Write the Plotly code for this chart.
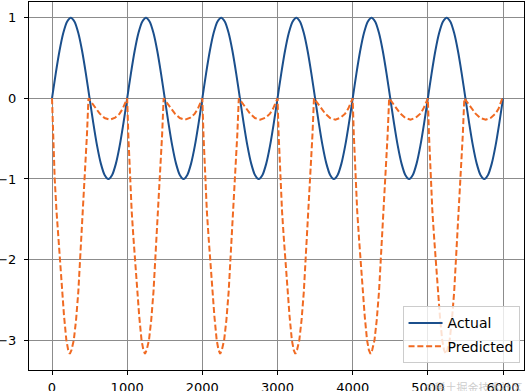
import plotly.graph_objects as go

# Cycle starts (one repeating pattern per 1000 steps)
cycle_starts = [0, 1000, 2000, 3000, 4000, 5000]
end_x = 6000

# Actual: one cycle
actual_cycle_x = [0, 50, 100, 150, 200, 250, 300, 350, 400, 450,
                  500, 550, 600, 650, 700, 750, 800, 850, 900, 950]
actual_cycle_y = [0.0, 0.31, 0.59, 0.81, 0.95, 1.0, 0.95, 0.81, 0.59, 0.31,
                  0.0, -0.31, -0.59, -0.81, -0.95, -1.0, -0.95, -0.81, -0.59, -0.31]

# Predicted: one cycle
pred_cycle_x = [0, 15, 36, 60, 85, 104, 130, 160, 191, 215, 237, 260, 290,
                320, 350, 375, 400, 425, 445, 465, 485,
                530, 570, 635, 700, 770, 840, 900, 940, 970, 990]
pred_cycle_y = [0.0, -0.45, -1.0, -1.4, -1.75, -2.0, -2.35, -2.7, -3.0, -3.12, -3.17, -3.12, -3.0,
                -2.75, -2.4, -2.0, -1.6, -1.2, -0.9, -0.45, 0.0,
                -0.06, -0.11, -0.19, -0.245, -0.265, -0.24, -0.19, -0.13, -0.065, 0.0]

x_ticks = [0, 1000, 2000, 3000, 4000, 5000, 6000]
y_ticks = [-3, -2, -1, 0, 1]

ax, ay, px, py = [], [], [], []
for s in cycle_starts:
    ax += [s + v for v in actual_cycle_x]
    ay += actual_cycle_y
    px += [s + v for v in pred_cycle_x]
    py += pred_cycle_y
ax.append(end_x)
ay.append(0.0)

fig = go.Figure()
fig.add_trace(go.Scatter(x=ax, y=ay, mode="lines", name="Actual", legendgroup="a",
                         line=dict(color="#1b4f8c", width=2, shape="spline", smoothing=0.6)))
fig.add_trace(go.Scatter(x=px, y=py, mode="lines", name="Predicted", legendgroup="p",
                         line=dict(color="#f06a22", width=2, dash="6px,2.8px")))

axis_common = dict(showline=True, linecolor="black", linewidth=1, mirror=True,
                   ticks="outside", ticklen=4, tickcolor="black", automargin=False,
                   showgrid=True, gridcolor="#8c8c8c", gridwidth=1, zeroline=False,
                   tickfont=dict(family="DejaVu Sans", size=13, color="black"))

fig.update_xaxes(range=[-306, 6279], tickvals=x_ticks, ticklabelstandoff=1, **axis_common)
fig.update_yaxes(range=[-3.37, 1.195], tickvals=y_ticks, ticklabelstandoff=5, **axis_common)

fig.update_layout(
    width=527, height=391,
    margin=dict(l=29, r=3, t=2, b=21),
    plot_bgcolor="white", paper_bgcolor="white",
    font=dict(family="DejaVu Sans", size=13, color="black"),
    legend=dict(x=0.991, y=0.018, xanchor="right", yanchor="bottom",
                bgcolor="rgba(255,255,255,0.8)", bordercolor="#cccccc", borderwidth=1,
                font=dict(family="DejaVu Sans", size=14), traceorder="grouped",
                tracegroupgap=2, itemwidth=34, entrywidth=80),
    showlegend=True,
)

fig.add_annotation(text="@稀土掘金技术社区", xref="paper", yref="paper",
                   x=1.0, y=-0.045, xanchor="right", yanchor="middle", showarrow=False,
                   font=dict(family="Noto Sans CJK SC", size=11, color="rgba(170,170,170,0.6)"))

fig.write_html("out.html", config={"displayModeBar": False},
               post_script="document.body.style.margin='0';")
